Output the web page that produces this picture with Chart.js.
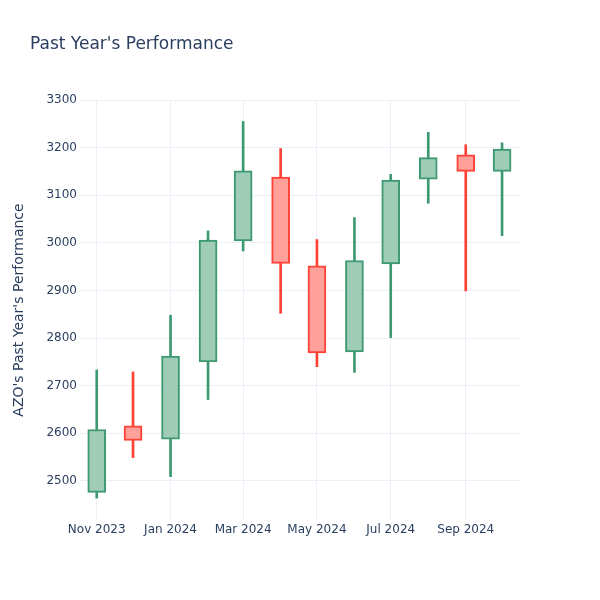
<!DOCTYPE html>
<html>
<head>
<meta charset="utf-8">
<script src="https://cdn.jsdelivr.net/npm/chart.js@4"></script>
<style>
  html, body { margin: 0; padding: 0; background: #fff; }
</style>
</head>
<body>
<canvas id="perfChart" width="600" height="600"></canvas>
<script>
// monthly candles, AZO
const months = ["2023-11-01", "2023-12-01", "2024-01-01", "2024-02-01", "2024-03-01", "2024-04-01",
                "2024-05-01", "2024-06-01", "2024-07-01", "2024-08-01", "2024-09-01", "2024-10-01"];
const opens  = [2476, 2616, 2588, 2750, 3004, 3138, 2952, 2771, 2956, 3134, 3185, 3150];
const highs  = [2733, 2729, 2848, 3025, 3255, 3198, 3007, 3053, 3144, 3232, 3206, 3210];
const lows   = [2464, 2549, 2509, 2671, 2983, 2852, 2740, 2728, 2801, 3083, 2899, 3015];
const closes = [2608, 2585, 2762, 3006, 3151, 2957, 2769, 2963, 3132, 3179, 3150, 3197];

const tickDates  = ["2023-11-01", "2024-01-01", "2024-03-01", "2024-05-01", "2024-07-01", "2024-09-01"];
const tickLabels = ["Nov 2023", "Jan 2024", "Mar 2024", "May 2024", "Jul 2024", "Sep 2024"];

const ts = s => Date.parse(s + "T00:00:00Z");
const up = closes.map((c, i) => c >= opens[i]);

const upLine = "#3D9970", upFill = "#9ECCB7";
const downLine = "#FF4136", downFill = "#FFA09A";
const gridColor = "#EBF0F8";
const textColor = "#2a3f5f";
const fontFamily = "'DejaVu Sans', sans-serif";

const bodies = months.map((m, i) => ({ x: ts(m), y: [opens[i], closes[i]] }));
const wicks = months.map((m, i) => ({ x: ts(m), y: [lows[i], highs[i]] }));

const titlePlugin = {
  id: "plotTitle",
  afterDraw(chart) {
    const ctx = chart.ctx;
    ctx.save();
    ctx.font = "17px " + fontFamily;
    ctx.fillStyle = textColor;
    ctx.textBaseline = "middle";
    ctx.textAlign = "left";
    ctx.fillText("Past Year's Performance", 30, 45);
    ctx.restore();
  }
};

new Chart(document.getElementById("perfChart"), {
  type: "bar",
  data: {
    datasets: [
      {
        label: "body",
        data: bodies,
        grouped: false,
        order: 1,
        barThickness: 18,
        borderWidth: 2,
        borderSkipped: false,
        backgroundColor: ctx => up[ctx.dataIndex] ? upFill : downFill,
        borderColor: ctx => up[ctx.dataIndex] ? upLine : downLine
      },
      {
        label: "wick",
        data: wicks,
        grouped: false,
        order: 2,
        barThickness: 2,
        borderWidth: 0,
        backgroundColor: ctx => up[ctx.dataIndex] ? upLine : downLine
      }
    ]
  },
  options: {
    responsive: false,
    animation: false,
    layout: { padding: { top: 100, right: 80, bottom: 0, left: 0 } },
    plugins: {
      legend: { display: false },
      tooltip: { enabled: false }
    },
    scales: {
      x: {
        type: "linear",
        offset: false,
        min: Date.UTC(2023, 9, 18, 4),
        max: Date.UTC(2024, 9, 15, 20),
        grid: { color: gridColor, offset: false, drawTicks: false },
        border: { display: false },
        afterBuildTicks: scale => {
          scale.ticks = tickDates.map(d => ({ value: ts(d) }));
        },
        afterFit: scale => { scale.height = 80; },
        ticks: {
          color: textColor,
          font: { family: fontFamily, size: 12 },
          padding: 3,
          maxRotation: 0,
          autoSkip: false,
          callback: (v, i) => tickLabels[i]
        }
      },
      y: {
        min: 2418,
        max: 3300,
        grid: { color: gridColor, drawTicks: false },
        border: { display: false },
        afterFit: scale => { scale.width = 80; },
        ticks: {
          stepSize: 100,
          includeBounds: false,
          color: textColor,
          font: { family: fontFamily, size: 12 },
          padding: 3,
          callback: v => String(v)
        },
        title: {
          display: true,
          text: "AZO's Past Year's Performance",
          color: textColor,
          font: { family: fontFamily, size: 14 },
          padding: { top: 11, bottom: 0 }
        }
      }
    }
  },
  plugins: [titlePlugin]
});
</script>
</body>
</html>
